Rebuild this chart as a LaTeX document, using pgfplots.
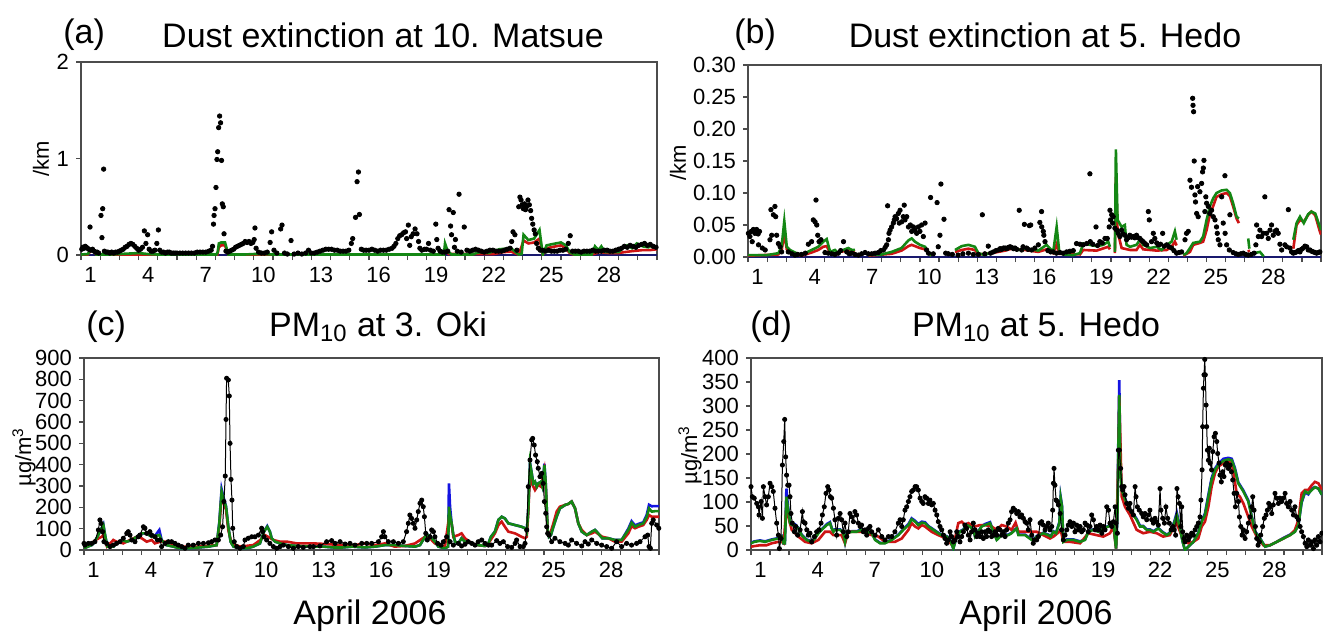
\documentclass[border=0pt]{standalone}
\usepackage{fontspec}
\setmainfont{Liberation Sans}
\usepackage{pgfplots}
\pgfplotsset{compat=1.18}
\definecolor{mred}{RGB}{205,20,20}
\definecolor{mgreen}{RGB}{20,135,20}
\definecolor{mblue}{RGB}{20,20,225}
\definecolor{mnavy}{RGB}{25,25,110}
\pgfplotsset{panel/.style={
 scale only axis, anchor=south west, xmin=0, xmax=30,
 axis line style={draw=black!70, line width=0.7pt},
 tick align=outside, tick pos=left,
 xtick={0,1,...,30},
 x tick label as interval,
 xticklabels={1,,,4,,,7,,,10,,,13,,,16,,,19,,,22,,,25,,,28,,},
 major tick length=2.5pt,
 every tick/.style={black!70, line width=0.6pt},
 tick label style={font=\fontsize{11}{11}\selectfont},
 /pgf/number format/assume math mode=true,
 unbounded coords=jump,
 clip mode=individual},
 modl/.style={line width=1.3pt, no marks},
 dots/.style={only marks, mark=*, mark size=1.1pt, black},
 obs/.style={black, line width=0.5pt, mark=*, mark size=1.0pt}}
\begin{document}
\begin{tikzpicture}
\path[use as bounding box] (0,0) rectangle (661.5pt,-317pt);
% ---------- (a)
\begin{axis}[panel, at={(40.5pt,-127.5pt)}, width=288pt, height=96.5pt,
 ymin=0, ymax=2, ytick={0,1,2}]
\addplot[mnavy, line width=1pt] coordinates {(0,0) (30,0)};
\addplot[modl, mred] coordinates {(0,0.003)(0.35,0.005)(0.5,0.04)(0.65,0.04)(0.8,0.003)(7.1,0.003)(7.18,0.08)(7.3,0.1)(7.5,0.1)(7.6,0.04)(7.68,0.003)(18.9,0.003)(18.96,0.07)(19.15,0.01)(21.5,0.01)(22.0,0.03)(22.4,0.035)(22.8,0.003)(23.05,0.15)(23.3,0.12)(23.6,0.13)(23.88,0.17)(24.05,0.003)(24.25,0.07)(24.6,0.085)(25.0,0.1)(25.25,0.07)(25.45,0.02)(25.7,0.003)(26.7,0.01)(27.0,0.03)(27.5,0.02)(28.0,0.02)(28.3,0.03)(28.7,0.04)(29.2,0.05)(29.6,0.05)(30,0.06)};
\addplot[modl, mgreen] coordinates {(0,0.005)(0.35,0.01)(0.5,0.05)(0.65,0.05)(0.8,0.005)(1.5,0.005)(2.0,0.01)(2.5,0.015)(3.0,0.02)(3.5,0.01)(4.0,0.005)(7.05,0.005)(7.12,0.03)(7.18,0.12)(7.3,0.13)(7.5,0.13)(7.6,0.06)(7.68,0.005)(8.5,0.005)(9.0,0.01)(9.5,0.01)(10,0.005)(18.9,0.005)(18.96,0.12)(19.1,0.04)(19.3,0.005)(20.4,0.005)(20.6,0.02)(20.8,0.03)(21.2,0.02)(21.8,0.06)(22.4,0.07)(22.7,0.02)(22.8,0.005)(22.95,0.01)(23.05,0.21)(23.3,0.155)(23.6,0.17)(23.88,0.26)(24.05,0.005)(24.25,0.10)(24.6,0.115)(25.0,0.13)(25.25,0.1)(25.45,0.03)(25.7,0.005)(26.6,0.005)(26.77,0.09)(26.95,0.05)(27.1,0.09)(27.3,0.03)(27.6,0.03)(28.0,0.03)(28.2,0.07)(28.45,0.1)(28.7,0.07)(28.95,0.12)(29.25,0.09)(29.55,0.08)(29.75,0.1)(29.9,0.09)(30,0.08)};
\addplot[dots] coordinates {(0.04,0.06)(0.1,0.08)(0.16,0.07)(0.22,0.09)(0.28,0.08)(0.34,0.07)(0.4,0.06)(0.47,0.29)(0.52,0.05)(0.6,0.06)(0.68,0.04)(0.76,0.03)(0.84,0.03)(0.92,0.02)(1.04,0.41)(1.09,0.18)(1.13,0.48)(1.18,0.89)(1.22,0.04)(1.3,0.03)(1.4,0.03)(1.5,0.02)(1.6,0.03)(1.7,0.02)(1.8,0.03)(1.9,0.03)(2.0,0.04)(2.1,0.05)(2.2,0.06)(2.3,0.08)(2.4,0.09)(2.5,0.11)(2.6,0.12)(2.7,0.11)(2.8,0.09)(2.9,0.07)(3.0,0.05)(3.1,0.06)(3.2,0.08)(3.3,0.25)(3.38,0.12)(3.47,0.21)(3.55,0.06)(3.65,0.04)(3.75,0.04)(3.85,0.05)(3.95,0.12)(4.03,0.26)(4.1,0.05)(4.2,0.03)(4.3,0.03)(4.4,0.02)(4.5,0.03)(4.6,0.03)(4.7,0.02)(4.8,0.02)(4.9,0.02)(5.0,0.02)(5.15,0.02)(5.3,0.02)(5.45,0.02)(5.6,0.02)(5.75,0.02)(5.9,0.02)(6.05,0.03)(6.2,0.03)(6.35,0.03)(6.5,0.03)(6.65,0.04)(6.78,0.05)(6.85,0.09)(6.9,0.32)(6.93,0.41)(6.98,0.48)(7.03,0.70)(7.08,0.99)(7.12,1.07)(7.17,1.32)(7.22,1.44)(7.27,1.37)(7.32,0.98)(7.36,0.53)(7.41,0.50)(7.45,0.22)(7.55,0.04)(7.65,0.03)(7.75,0.04)(7.85,0.05)(7.95,0.06)(8.05,0.08)(8.15,0.09)(8.25,0.1)(8.35,0.11)(8.45,0.12)(8.55,0.14)(8.65,0.13)(8.75,0.14)(8.85,0.12)(8.95,0.13)(9.02,0.16)(9.06,0.28)(9.12,0.07)(9.25,0.03)(9.4,0.02)(9.55,0.02)(9.7,0.03)(9.85,0.13)(9.93,0.24)(10.05,0.05)(10.2,0.02)(10.4,0.27)(10.47,0.31)(10.6,0.02)(10.75,0.01)(10.94,0.15)(11.1,0.01)(11.3,0.02)(11.5,0.01)(11.7,0.02)(11.85,0.05)(12.0,0.02)(12.15,0.02)(12.3,0.03)(12.45,0.04)(12.6,0.05)(12.75,0.06)(12.9,0.06)(13.05,0.06)(13.2,0.05)(13.35,0.05)(13.5,0.04)(13.65,0.04)(13.8,0.04)(13.95,0.05)(14.08,0.12)(14.15,0.17)(14.3,0.39)(14.38,0.76)(14.45,0.86)(14.5,0.42)(14.6,0.06)(14.72,0.05)(14.85,0.05)(15.0,0.05)(15.15,0.06)(15.3,0.05)(15.45,0.04)(15.6,0.05)(15.75,0.05)(15.9,0.05)(16.05,0.06)(16.2,0.07)(16.3,0.09)(16.4,0.12)(16.5,0.17)(16.6,0.2)(16.7,0.21)(16.8,0.23)(16.9,0.24)(16.96,0.17)(17.05,0.31)(17.12,0.10)(17.2,0.19)(17.3,0.22)(17.4,0.27)(17.5,0.22)(17.58,0.14)(17.65,0.07)(17.75,0.05)(17.9,0.06)(18.0,0.06)(18.1,0.12)(18.2,0.05)(18.35,0.04)(18.48,0.32)(18.53,0.16)(18.6,0.07)(18.7,0.04)(18.82,0.03)(18.95,0.03)(19.1,0.04)(19.17,0.47)(19.25,0.30)(19.3,0.21)(19.39,0.44)(19.45,0.08)(19.5,0.16)(19.6,0.04)(19.69,0.63)(19.8,0.03)(19.96,0.29)(20.1,0.05)(20.25,0.04)(20.4,0.05)(20.55,0.06)(20.7,0.05)(20.85,0.04)(21.0,0.03)(21.15,0.04)(21.3,0.05)(21.45,0.05)(21.6,0.04)(21.75,0.04)(21.9,0.04)(22.05,0.05)(22.2,0.06)(22.35,0.07)(22.43,0.14)(22.5,0.24)(22.6,0.21)(22.7,0.05)(22.8,0.50)(22.86,0.60)(22.92,0.57)(22.98,0.52)(23.04,0.48)(23.1,0.53)(23.15,0.47)(23.2,0.50)(23.28,0.57)(23.35,0.52)(23.42,0.46)(23.47,0.38)(23.53,0.32)(23.6,0.26)(23.66,0.22)(23.73,0.12)(23.82,0.07)(23.92,0.05)(24.05,0.05)(24.2,0.04)(24.35,0.05)(24.5,0.04)(24.65,0.04)(24.8,0.04)(24.95,0.05)(25.1,0.05)(25.25,0.06)(25.38,0.12)(25.48,0.20)(25.6,0.04)(25.75,0.04)(25.9,0.04)(26.05,0.03)(26.2,0.04)(26.35,0.04)(26.5,0.04)(26.65,0.05)(26.8,0.04)(26.95,0.04)(27.1,0.04)(27.25,0.05)(27.4,0.05)(27.55,0.04)(27.7,0.04)(27.85,0.05)(28.0,0.06)(28.15,0.07)(28.3,0.09)(28.45,0.08)(28.6,0.10)(28.75,0.09)(28.9,0.08)(29.05,0.10)(29.2,0.11)(29.35,0.12)(29.5,0.10)(29.65,0.11)(29.8,0.09)(29.95,0.08)};
\end{axis}
% ---------- (b)
\begin{axis}[panel, at={(374pt,-128.5pt)}, width=286.5pt, height=96pt,
 ymin=0, ymax=0.3, ytick={0,0.05,0.1,0.15,0.2,0.25,0.3},
 yticklabel style={/pgf/number format/.cd, fixed, fixed zerofill, precision=2}]
\addplot[mnavy, line width=1pt] coordinates {(0,0) (30,0)};
\addplot[modl, mred] coordinates {(0,0.002)(1.59,0.004)(1.76,0.01)(1.9,0.037)(2.03,0.012)(2.46,0.005)(2.8,0.002)(3.33,0.007)(3.68,0.011)(3.94,0.016)(4.12,0.017)(4.3,0.006)(4.73,0.004)};
\addplot[modl, mred] coordinates {(4.9,0.008)(5.25,0.012)(5.6,0.009)};
\addplot[modl, mred] coordinates {(6.3,0.002)(7.52,0.005)(8.04,0.01)(8.4,0.017)(8.57,0.019)(9.0,0.014)(9.27,0.012)(9.6,0.002)};
\addplot[modl, mred] coordinates {(10.84,0.008)(11.19,0.011)(11.54,0.013)(11.88,0.011)(12.06,0.004)(12.75,0.006)(13.46,0.01)(13.8,0.013)(14.5,0.011)(15.2,0.008)(15.63,0.012)(15.98,0.006)(16.16,0.02)(16.3,0.005)(17.38,0.004)(17.55,0.011)(18.25,0.01)(18.86,0.016)(18.95,0.012)};
\addplot[modl, mred] coordinates {(19.21,0.006)(19.26,0.125)(19.35,0.04)(19.56,0.014)(20.0,0.011)(20.34,0.011)(20.52,0.019)(20.69,0.012)(21.4,0.01)(21.92,0.011)(22.18,0.016)(22.35,0.024)(22.44,0.018)};
\addplot[modl, mred] coordinates {(22.79,0.002)(23.14,0.008)(23.31,0.019)(23.66,0.022)(23.83,0.024)(24.01,0.042)(24.18,0.066)(24.36,0.08)(24.53,0.094)(24.8,0.098)(25.06,0.1)(25.23,0.095)(25.4,0.079)(25.58,0.06)(25.7,0.053)};
\addplot[modl, mred] coordinates {(26.19,0.011)(26.25,0.008)};
\addplot[modl, mred] coordinates {(28.55,0.013)(28.72,0.05)(28.9,0.058)(29.1,0.055)(29.33,0.066)(29.5,0.071)(29.7,0.065)(29.94,0.04)(30,0.035)};
\addplot[modl, mgreen] coordinates {(0,0.003)(1.0,0.003)(1.59,0.006)(1.76,0.016)(1.9,0.056)(2.03,0.016)(2.2,0.011)(2.46,0.007)(2.8,0.003)(3.33,0.011)(3.68,0.016)(3.94,0.024)(4.12,0.028)(4.3,0.008)(4.55,0.011)(4.73,0.006)};
\addplot[modl, mgreen] coordinates {(4.9,0.01)(5.25,0.014)(5.43,0.011)(5.6,0.011)};
\addplot[modl, mgreen] coordinates {(6.3,0.003)(7.0,0.004)(7.52,0.008)(8.04,0.014)(8.4,0.026)(8.57,0.029)(8.74,0.024)(9.0,0.019)(9.27,0.016)(9.44,0.006)(9.6,0.002)};
\addplot[modl, mgreen] coordinates {(10.84,0.011)(11.19,0.017)(11.54,0.019)(11.88,0.016)(12.06,0.006)(12.4,0.003)(12.75,0.008)(13.11,0.011)(13.46,0.012)(13.8,0.016)(14.15,0.011)(14.5,0.013)(14.85,0.012)(15.2,0.01)(15.63,0.019)(15.98,0.008)(16.16,0.047)(16.3,0.007)(16.5,0.004)(17.03,0.003)(17.38,0.006)(17.55,0.021)(17.9,0.019)(18.25,0.017)(18.6,0.019)(18.86,0.024)(18.95,0.016)};
\addplot[modl, mgreen] coordinates {(19.21,0.008)(19.26,0.168)(19.35,0.058)(19.56,0.047)(19.73,0.05)(19.82,0.019)(20.0,0.016)(20.34,0.019)(20.52,0.027)(20.69,0.019)(21.05,0.014)(21.4,0.016)(21.65,0.011)(21.92,0.019)(22.18,0.024)(22.35,0.04)(22.44,0.027)};
\addplot[modl, mgreen] coordinates {(22.79,0.003)(22.96,0.006)(23.14,0.014)(23.31,0.022)(23.66,0.024)(23.83,0.032)(24.01,0.058)(24.18,0.079)(24.36,0.092)(24.53,0.1)(24.8,0.104)(25.06,0.105)(25.23,0.1)(25.4,0.084)(25.58,0.063)(25.7,0.06)};
\addplot[modl, mgreen] coordinates {(26.19,0.029)(26.25,0.013)};
\addplot[modl, mgreen] coordinates {(26.5,0.006)(26.8,0.008)(27.0,0.001)};
\addplot[modl, mgreen] coordinates {(28.55,0.027)(28.72,0.053)(28.9,0.063)(29.1,0.053)(29.33,0.067)(29.5,0.071)(29.7,0.068)(29.94,0.047)(30,0.042)};
\addplot[dots] coordinates {(0.02,0.037)(0.1,0.032)(0.17,0.040)(0.22,0.024)(0.28,0.043)(0.36,0.037)(0.45,0.043)(0.53,0.036)(0.6,0.040)(0.55,0.019)(0.75,0.014)(0.9,0.011)(1.15,0.027)(1.2,0.074)(1.24,0.034)(1.33,0.066)(1.41,0.079)(1.45,0.063)(1.5,0.034)(1.59,0.021)(1.68,0.016)(1.76,0.008)(2.11,0.008)(2.3,0.005)(2.46,0.003)(2.6,0.004)(2.8,0.004)(3.0,0.006)(3.16,0.02)(3.33,0.024)(3.42,0.058)(3.51,0.055)(3.56,0.089)(3.6,0.05)(3.65,0.034)(3.72,0.024)(3.82,0.027)(4.03,0.007)(4.2,0.006)(4.38,0.005)(4.55,0.004)(4.73,0.006)(4.85,0.01)(5.0,0.024)(5.17,0.008)(5.3,0.005)(5.43,0.006)(5.6,0.004)(5.78,0.003)(5.95,0.005)(6.13,0.007)(6.3,0.005)(6.48,0.005)(6.65,0.006)(6.82,0.007)(6.95,0.01)(7.09,0.011)(7.18,0.015)(7.26,0.019)(7.31,0.08)(7.35,0.027)(7.38,0.037)(7.44,0.042)(7.52,0.047)(7.61,0.053)(7.66,0.058)(7.7,0.063)(7.78,0.06)(7.87,0.068)(7.92,0.053)(7.96,0.073)(8.05,0.055)(8.13,0.063)(8.18,0.081)(8.22,0.058)(8.31,0.063)(8.4,0.047)(8.5,0.05)(8.57,0.04)(8.66,0.047)(8.74,0.042)(8.83,0.037)(8.92,0.047)(9.0,0.04)(9.09,0.05)(9.18,0.032)(9.27,0.053)(9.35,0.011)(9.45,0.006)(9.56,0.093)(9.7,0.005)(9.9,0.085)(9.96,0.016)(10.05,0.034)(10.1,0.114)(10.26,0.059)(10.35,0.006)(10.49,0.005)(10.7,0.004)(11.0,0.003)(11.25,0.005)(11.54,0.006)(11.8,0.004)(12.06,0.004)(12.27,0.066)(12.4,0.005)(12.58,0.017)(12.7,0.006)(12.85,0.008)(12.98,0.01)(13.11,0.011)(13.2,0.013)(13.28,0.012)(13.37,0.014)(13.46,0.014)(13.55,0.013)(13.63,0.015)(13.72,0.016)(13.8,0.015)(13.9,0.013)(13.98,0.014)(14.07,0.012)(14.2,0.073)(14.33,0.011)(14.4,0.016)(14.47,0.051)(14.59,0.014)(14.66,0.012)(14.73,0.049)(14.8,0.05)(14.85,0.011)(15.02,0.014)(15.2,0.019)(15.28,0.054)(15.37,0.071)(15.38,0.047)(15.46,0.04)(15.49,0.034)(15.55,0.024)(15.7,0.01)(15.85,0.008)(15.98,0.008)(16.15,0.006)(16.33,0.007)(16.5,0.006)(16.68,0.008)(16.85,0.009)(17.03,0.01)(17.2,0.021)(17.38,0.02)(17.55,0.019)(17.73,0.021)(17.9,0.13)(17.92,0.024)(18.05,0.02)(18.22,0.047)(18.3,0.018)(18.42,0.024)(18.55,0.022)(18.69,0.029)(18.81,0.029)(18.91,0.047)(18.95,0.073)(18.98,0.058)(19.04,0.066)(19.09,0.053)(19.12,0.063)(19.21,0.045)(19.3,0.042)(19.38,0.037)(19.47,0.032)(19.56,0.042)(19.64,0.036)(19.73,0.034)(19.82,0.027)(19.9,0.03)(19.99,0.034)(20.08,0.031)(20.17,0.032)(20.25,0.03)(20.34,0.034)(20.43,0.03)(20.52,0.029)(20.6,0.026)(20.69,0.024)(20.78,0.021)(20.87,0.019)(20.96,0.071)(21.01,0.058)(21.13,0.024)(21.22,0.037)(21.3,0.029)(21.4,0.022)(21.48,0.019)(21.6,0.02)(21.71,0.037)(21.8,0.017)(21.92,0.019)(22.05,0.016)(22.18,0.014)(22.3,0.01)(22.44,0.006)(22.57,0.007)(22.7,0.008)(22.88,0.027)(22.96,0.037)(23.05,0.04)(23.14,0.12)(23.22,0.109)(23.28,0.248)(23.3,0.237)(23.33,0.227)(23.36,0.15)(23.4,0.097)(23.43,0.086)(23.49,0.068)(23.54,0.11)(23.57,0.063)(23.66,0.102)(23.75,0.115)(23.8,0.133)(23.84,0.139)(23.87,0.151)(23.92,0.071)(23.97,0.094)(24.01,0.084)(24.1,0.079)(24.18,0.068)(24.27,0.073)(24.36,0.063)(24.45,0.058)(24.53,0.047)(24.57,0.037)(24.62,0.027)(24.71,0.019)(24.8,0.094)(24.88,0.053)(24.97,0.127)(24.98,0.037)(25.06,0.019)(25.2,0.011)(25.23,0.066)(25.4,0.007)(25.55,0.005)(25.67,0.004)(25.8,0.005)(25.93,0.006)(26.06,0.004)(26.19,0.003)(26.35,0.004)(26.5,0.006)(26.59,0.019)(26.63,0.05)(26.72,0.032)(26.8,0.042)(26.89,0.032)(26.98,0.037)(27.06,0.094)(27.15,0.037)(27.24,0.029)(27.33,0.042)(27.41,0.05)(27.5,0.034)(27.59,0.04)(27.67,0.042)(27.76,0.037)(27.85,0.02)(27.94,0.011)(28.11,0.019)(28.2,0.016)(28.29,0.074)(28.37,0.014)(28.46,0.008)(28.55,0.006)(28.64,0.007)(28.72,0.008)(28.81,0.01)(28.9,0.008)(28.98,0.012)(29.07,0.014)(29.16,0.017)(29.25,0.016)(29.33,0.011)(29.42,0.011)(29.51,0.009)(29.6,0.008)(29.69,0.007)(29.77,0.006)(29.86,0.007)(29.94,0.008)};
\end{axis}
% ---------- (c)
\begin{axis}[panel, at={(42pt,-275pt)}, width=287.5pt, height=96pt,
 ymin=0, ymax=900, ytick={0,100,...,900}]
\addplot[modl, mblue] coordinates {(0,8)(0.2,16)(0.4,23)(0.5,31)(0.7,62)(0.87,94)(1.01,120)(1.1,70)(1.22,16)(1.53,16)(1.7,31)(1.97,47)(2.23,39)(2.49,47)(2.75,62)(3.01,78)(3.27,78)(3.53,62)(3.7,66)(3.93,94)(4.05,47)(4.3,23)(4.66,16)(5.0,8)(5.5,8)(6.0,12)(6.5,16)(6.92,23)(7.06,130)(7.18,285)(7.27,250)(7.41,205)(7.53,109)(7.65,39)(7.8,16)(8.14,8)(8.5,8)(8.83,16)(9.18,31)(9.39,86)(9.56,112)(9.7,86)(9.79,55)(9.97,39)(10.23,31)(10.6,23)(11.1,19)(11.97,16)(12.5,16)(13,12)(13.5,12)(14,16)(14.66,12)(15.2,16)(15.7,23)(16.2,23)(16.75,19)(17.27,16)(17.53,23)(17.79,62)(17.97,70)(18.14,55)(18.31,39)(18.49,16)(18.83,8)(19.0,16)(19.04,312)(19.1,200)(19.18,125)(19.27,70)(19.36,39)(19.53,31)(19.7,55)(19.88,39)(20.23,31)(20.57,23)(20.92,19)(21.1,31)(21.23,62)(21.44,86)(21.62,141)(21.79,156)(21.96,148)(22.14,125)(22.49,117)(22.83,109)(23.01,102)(23.1,86)(23.18,188)(23.27,410)(23.36,359)(23.44,312)(23.53,320)(23.62,297)(23.7,312)(23.84,320)(23.92,297)(24.02,405)(24.09,312)(24.14,203)(24.19,94)(24.26,62)(24.36,70)(24.49,109)(24.66,156)(24.83,195)(25.1,211)(25.27,216)(25.44,227)(25.62,195)(25.79,125)(25.97,86)(26.23,70)(26.49,86)(26.66,94)(26.83,78)(27.04,55)(27.36,55)(27.7,47)(28.05,47)(28.4,100)(28.57,135)(28.75,115)(28.92,122)(29.18,130)(29.36,165)(29.48,212)(29.62,205)(29.79,206)(30,206)};
\addplot[modl, mred] coordinates {(0,8)(0.3,23)(0.6,47)(0.92,62)(1.0,70)(1.2,16)(1.53,47)(1.7,39)(2.05,31)(2.4,47)(2.75,62)(3.01,55)(3.27,39)(3.53,47)(3.7,31)(3.97,39)(4.3,39)(4.75,23)(5.2,16)(6.0,16)(6.92,23)(7.06,109)(7.18,250)(7.27,227)(7.41,188)(7.53,94)(7.7,31)(8.14,16)(8.83,23)(9.2,47)(9.44,70)(9.6,62)(9.88,47)(10.23,39)(10.6,39)(11.1,31)(11.97,31)(12.66,28)(13.36,23)(14.14,23)(14.66,31)(15.2,23)(15.7,31)(16.2,16)(16.75,19)(17.27,31)(17.79,62)(17.97,62)(18.31,31)(18.83,16)(19.04,150)(19.18,125)(19.27,62)(19.53,70)(19.7,78)(19.88,55)(20.23,31)(20.57,23)(20.92,19)(21.1,31)(21.27,55)(21.44,78)(21.62,117)(21.79,133)(21.96,109)(22.14,86)(22.49,78)(22.83,62)(23.01,55)(23.1,62)(23.18,172)(23.27,375)(23.36,312)(23.53,281)(23.7,305)(23.84,297)(24.02,375)(24.09,297)(24.14,188)(24.19,86)(24.3,70)(24.49,125)(24.66,180)(24.83,203)(25.1,211)(25.27,216)(25.44,227)(25.62,195)(25.79,125)(25.97,94)(26.23,70)(26.49,78)(26.66,86)(26.83,75)(27.04,62)(27.36,55)(27.7,39)(28.05,39)(28.4,78)(28.57,112)(28.75,102)(28.92,109)(29.18,117)(29.36,141)(29.48,164)(29.62,156)(29.79,156)(30,156)};
\addplot[modl, mgreen] coordinates {(0,8)(0.2,16)(0.4,23)(0.5,31)(0.7,62)(0.87,94)(1.01,117)(1.1,70)(1.22,16)(1.53,16)(1.7,31)(1.97,47)(2.23,39)(2.49,47)(2.75,62)(3.01,78)(3.27,78)(3.53,62)(3.7,66)(3.93,70)(4.05,47)(4.3,23)(4.66,16)(5.0,8)(5.5,8)(6.0,12)(6.5,16)(6.92,23)(7.06,125)(7.18,273)(7.27,242)(7.41,203)(7.53,109)(7.65,39)(7.8,16)(8.14,8)(8.5,8)(8.83,16)(9.18,31)(9.39,86)(9.56,109)(9.7,86)(9.79,55)(9.97,39)(10.23,31)(10.6,23)(11.1,19)(11.97,16)(12.5,16)(13,12)(13.5,12)(14,16)(14.66,12)(15.2,16)(15.7,23)(16.2,23)(16.75,19)(17.27,16)(17.53,23)(17.79,62)(17.97,70)(18.14,55)(18.31,39)(18.49,16)(18.83,8)(19.0,16)(19.04,203)(19.1,164)(19.18,125)(19.27,70)(19.36,39)(19.53,31)(19.7,55)(19.88,39)(20.23,31)(20.57,23)(20.92,19)(21.1,31)(21.23,62)(21.44,86)(21.62,141)(21.79,156)(21.96,148)(22.14,125)(22.49,117)(22.83,109)(23.01,102)(23.1,86)(23.18,188)(23.27,406)(23.36,359)(23.44,312)(23.53,320)(23.62,297)(23.7,312)(23.84,320)(23.92,297)(24.02,398)(24.09,312)(24.14,203)(24.19,94)(24.26,62)(24.36,70)(24.49,109)(24.66,156)(24.83,195)(25.1,211)(25.27,216)(25.44,227)(25.62,195)(25.79,125)(25.97,86)(26.23,70)(26.49,86)(26.66,94)(26.83,78)(27.04,55)(27.36,55)(27.7,47)(28.05,47)(28.4,94)(28.57,128)(28.75,109)(28.92,117)(29.18,125)(29.36,156)(29.48,195)(29.62,180)(29.79,182)(30,182)};
\addplot[obs] coordinates {(0.0,31)(0.05,23)(0.23,31)(0.4,31)(0.57,39)(0.75,94)(0.83,141)(0.89,125)(0.97,86)(1.04,39)(1.18,31)(1.36,16)(1.53,23)(1.7,31)(1.88,39)(2.05,55)(2.23,78)(2.31,86)(2.4,70)(2.49,47)(2.66,39)(2.83,62)(2.92,70)(3.1,109)(3.18,102)(3.27,78)(3.44,86)(3.53,70)(3.7,62)(3.83,47)(3.97,47)(4.05,16)(4.23,31)(4.4,39)(4.57,39)(4.75,31)(4.92,23)(5.1,16)(5.27,8)(5.44,23)(5.7,23)(5.97,31)(6.23,31)(6.49,34)(6.66,39)(6.83,47)(7.01,47)(7.13,70)(7.23,109)(7.3,227)(7.37,347)(7.41,612)(7.44,805)(7.53,797)(7.58,722)(7.62,500)(7.67,331)(7.72,234)(7.76,102)(7.84,39)(7.97,16)(8.14,8)(8.31,16)(8.4,47)(8.57,55)(8.75,62)(8.92,62)(9.1,70)(9.27,102)(9.32,86)(9.39,62)(9.53,47)(9.7,31)(9.88,16)(10.05,8)(10.23,16)(10.4,23)(10.66,16)(10.92,8)(11.18,16)(11.44,12)(11.79,16)(11.97,16)(12.31,19)(12.66,39)(12.92,44)(13.1,31)(13.36,39)(13.62,28)(13.88,31)(14.14,23)(14.49,31)(14.75,31)(15.01,31)(15.36,39)(15.53,62)(15.62,86)(15.7,62)(15.88,39)(16.14,39)(16.4,31)(16.66,39)(16.83,86)(16.92,125)(17.0,164)(17.09,148)(17.18,125)(17.27,102)(17.36,141)(17.44,180)(17.53,219)(17.62,234)(17.7,203)(17.76,156)(17.83,78)(17.91,47)(18.05,62)(18.14,94)(18.23,86)(18.31,62)(18.45,31)(18.63,23)(18.75,39)(18.92,62)(19.1,39)(19.27,23)(19.53,31)(19.7,19)(19.88,27)(20.05,39)(20.23,31)(20.4,23)(20.57,39)(20.75,47)(20.92,31)(21.1,23)(21.27,23)(21.53,44)(21.7,31)(21.88,39)(22.1,16)(22.31,12)(22.49,31)(22.57,47)(22.75,16)(22.92,16)(23.01,31)(23.1,94)(23.18,297)(23.27,422)(23.36,516)(23.41,523)(23.49,492)(23.56,445)(23.65,414)(23.7,383)(23.79,344)(23.88,359)(23.96,312)(24.02,227)(24.09,172)(24.14,109)(24.19,78)(24.26,70)(24.4,39)(24.57,55)(24.83,39)(25.1,31)(25.27,23)(25.44,47)(25.7,31)(25.97,19)(26.14,39)(26.31,28)(26.49,47)(26.75,31)(27.01,23)(27.27,16)(27.53,8)(27.79,39)(28.05,16)(28.31,31)(28.57,23)(28.83,31)(29.01,39)(29.27,62)(29.41,70)(29.48,16)(29.55,8)(29.62,125)(29.7,141)(29.88,117)(29.99,102)};
\end{axis}
% ---------- (d)
\begin{axis}[panel, at={(375.5pt,-275pt)}, width=285.5pt, height=96pt,
 ymin=0, ymax=400, ytick={0,50,...,400}]
\addplot[modl, mblue] coordinates {(0,15)(0.17,18)(0.47,20)(0.74,18)(1.09,22)(1.44,25)(1.61,29)(1.7,14)(1.78,14)(1.86,128)(1.93,95)(1.99,78)(2.05,58)(2.14,54)(2.31,54)(2.49,46)(2.66,32)(2.92,22)(3.19,18)(3.36,25)(3.54,36)(3.71,43)(3.98,54)(4.15,58)(4.24,46)(4.33,39)(4.41,43)(4.68,43)(4.85,36)(4.94,17)(5.03,36)(5.29,39)(5.55,39)(5.81,43)(6.08,39)(6.34,36)(6.52,22)(6.78,15)(7.04,15)(7.39,22)(7.74,32)(8.0,43)(8.27,54)(8.44,66)(8.62,61)(8.79,54)(8.97,59)(9.14,58)(9.32,50)(9.58,43)(9.84,36)(10.02,32)(10.28,29)(10.46,22)(10.63,3)(10.81,29)(10.98,39)(11.16,43)(11.33,54)(11.5,50)(11.68,43)(11.77,29)(11.94,39)(12.12,50)(12.29,54)(12.56,58)(12.73,39)(12.91,22)(13.17,32)(13.52,32)(13.69,36)(13.96,46)(14.05,32)(14.4,32)(14.75,22)(14.92,25)(15.01,29)(15.36,36)(15.62,32)(15.75,29)(15.89,39)(16.03,36)(16.2,58)(16.27,110)(16.34,92)(16.41,18)(16.6,22)(16.94,22)(17.29,18)(17.55,22)(17.72,39)(17.99,43)(18.25,39)(18.51,46)(18.78,50)(19.04,58)(19.18,3)(19.25,70)(19.3,230)(19.35,354)(19.4,180)(19.48,128)(19.6,113)(19.74,99)(19.91,85)(20.09,75)(20.26,65)(20.44,50)(20.61,50)(20.79,43)(20.96,43)(21.14,39)(21.4,46)(21.58,39)(21.84,32)(22.0,36)(22.23,58)(22.37,78)(22.54,46)(22.68,17)(22.8,0)(22.98,7)(23.24,17)(23.5,36)(23.68,61)(23.85,76)(24.03,115)(24.2,150)(24.38,170)(24.55,180)(24.82,190)(25.08,192)(25.26,190)(25.43,170)(25.6,141)(25.87,124)(26.13,103)(26.31,70)(26.48,39)(26.74,25)(27.01,7)(27.27,10)(27.62,17)(27.97,25)(28.32,32)(28.58,39)(28.76,52)(28.93,99)(29.11,120)(29.28,116)(29.46,128)(29.63,131)(29.81,128)(30,115)};
\addplot[modl, mred] coordinates {(0,7)(0.47,10)(0.82,10)(1.09,14)(1.44,17)(1.61,17)(1.72,14)(1.87,97)(1.96,69)(2.14,42)(2.49,28)(2.84,17)(3.19,14)(3.54,21)(3.89,38)(4.15,38)(4.33,31)(4.59,31)(4.76,31)(4.94,14)(5.11,38)(5.46,38)(5.81,38)(6.08,35)(6.34,31)(6.69,28)(7.04,17)(7.56,17)(7.92,24)(8.27,42)(8.44,56)(8.62,49)(8.79,45)(8.97,52)(9.14,49)(9.49,38)(9.84,31)(10.28,24)(10.63,7)(10.89,56)(11.07,59)(11.24,52)(11.42,56)(11.59,52)(11.77,49)(12.03,52)(12.29,52)(12.64,49)(12.91,42)(13.17,52)(13.43,49)(13.69,42)(13.9,57)(14.05,38)(14.4,38)(14.75,38)(14.92,38)(15.01,38)(15.36,31)(15.71,24)(15.89,28)(16.2,38)(16.27,42)(16.41,17)(16.76,17)(17.29,14)(17.72,35)(18.16,31)(18.51,28)(18.86,35)(19.04,49)(19.18,3)(19.3,194)(19.35,319)(19.48,111)(19.65,90)(19.91,73)(20.26,42)(20.61,35)(20.96,38)(21.31,35)(21.66,28)(22.0,31)(22.23,49)(22.37,56)(22.54,38)(22.71,21)(22.98,14)(23.24,17)(23.5,24)(23.68,49)(23.85,59)(24.03,90)(24.2,132)(24.38,160)(24.55,174)(24.82,181)(25.08,184)(25.26,181)(25.38,153)(25.52,118)(25.69,111)(25.87,97)(26.13,69)(26.31,49)(26.57,28)(26.92,10)(27.27,10)(27.62,17)(27.97,24)(28.32,31)(28.58,42)(28.76,63)(28.93,118)(29.11,125)(29.28,125)(29.46,135)(29.63,142)(29.81,139)(30,125)};
\addplot[modl, mgreen] coordinates {(0,14)(0.17,17)(0.47,19)(0.74,17)(1.09,21)(1.44,24)(1.61,28)(1.7,14)(1.78,14)(1.86,111)(1.93,90)(1.99,76)(2.05,56)(2.14,52)(2.31,52)(2.49,45)(2.66,31)(2.92,21)(3.19,17)(3.36,24)(3.54,35)(3.71,42)(3.98,52)(4.15,56)(4.24,45)(4.33,38)(4.41,42)(4.68,42)(4.85,35)(4.94,17)(5.03,35)(5.29,38)(5.55,38)(5.81,42)(6.08,38)(6.34,35)(6.52,21)(6.78,14)(7.04,14)(7.39,21)(7.74,31)(8.0,42)(8.27,52)(8.44,64)(8.62,59)(8.79,52)(8.97,57)(9.14,56)(9.32,49)(9.58,42)(9.84,35)(10.02,31)(10.28,28)(10.46,21)(10.63,3)(10.81,28)(10.98,38)(11.16,42)(11.33,52)(11.5,49)(11.68,42)(11.77,28)(11.94,38)(12.12,49)(12.29,52)(12.56,56)(12.73,38)(12.91,21)(13.17,31)(13.52,31)(13.69,35)(13.96,45)(14.05,31)(14.4,31)(14.75,21)(14.92,24)(15.01,28)(15.36,35)(15.62,31)(15.75,28)(15.89,38)(16.03,35)(16.2,56)(16.27,108)(16.34,90)(16.41,17)(16.6,21)(16.94,21)(17.29,17)(17.55,21)(17.72,38)(17.99,42)(18.25,38)(18.51,45)(18.78,49)(19.04,56)(19.18,3)(19.25,69)(19.3,208)(19.35,323)(19.4,174)(19.48,125)(19.6,111)(19.74,97)(19.91,83)(20.09,73)(20.26,63)(20.44,49)(20.61,49)(20.79,42)(20.96,42)(21.14,38)(21.4,45)(21.58,38)(21.84,31)(22.0,35)(22.23,56)(22.37,73)(22.54,45)(22.68,17)(22.8,0)(22.98,7)(23.24,17)(23.5,35)(23.68,59)(23.85,73)(24.03,111)(24.2,146)(24.38,167)(24.55,177)(24.82,186)(25.08,189)(25.26,187)(25.43,167)(25.6,139)(25.87,122)(26.13,101)(26.31,69)(26.48,38)(26.74,24)(27.01,7)(27.27,10)(27.62,17)(27.97,24)(28.32,31)(28.58,38)(28.76,52)(28.93,101)(29.11,122)(29.28,118)(29.46,125)(29.63,131)(29.81,128)(30,115)};
\addplot[obs] coordinates {(0.0,132)(0.07,111)(0.17,108)(0.3,97)(0.39,90)(0.42,73)(0.53,101)(0.6,66)(0.65,132)(0.74,111)(0.82,94)(0.91,111)(1.0,139)(1.09,132)(1.17,122)(1.26,87)(1.35,56)(1.44,31)(1.49,3)(1.58,24)(1.65,177)(1.72,226)(1.77,272)(1.82,194)(1.87,156)(1.93,135)(2.0,135)(2.05,111)(2.1,76)(2.17,56)(2.28,38)(2.35,49)(2.45,31)(2.58,42)(2.7,80)(2.75,59)(2.84,56)(2.93,42)(3.01,31)(3.1,35)(3.19,17)(3.33,28)(3.45,38)(3.57,42)(3.68,56)(3.75,73)(3.85,90)(3.94,118)(4.03,132)(4.1,125)(4.17,111)(4.24,108)(4.33,87)(4.41,63)(4.5,31)(4.59,66)(4.68,76)(4.76,63)(4.85,38)(4.94,56)(5.03,28)(5.11,38)(5.2,76)(5.29,69)(5.38,59)(5.46,80)(5.55,73)(5.64,56)(5.73,49)(5.81,52)(5.9,38)(5.99,42)(6.08,31)(6.17,45)(6.25,49)(6.34,38)(6.52,31)(6.69,42)(6.87,28)(7.04,21)(7.22,28)(7.39,28)(7.56,38)(7.74,56)(7.83,63)(7.92,49)(8.0,63)(8.09,83)(8.18,90)(8.27,101)(8.35,111)(8.44,122)(8.53,125)(8.62,132)(8.7,132)(8.79,125)(8.88,108)(8.97,101)(9.05,97)(9.14,111)(9.23,108)(9.32,97)(9.4,104)(9.49,94)(9.58,97)(9.67,83)(9.76,73)(9.84,59)(9.93,49)(10.02,42)(10.11,31)(10.19,24)(10.28,14)(10.37,21)(10.46,38)(10.54,28)(10.63,17)(10.72,21)(10.81,38)(10.89,28)(10.98,17)(11.07,28)(11.16,38)(11.24,52)(11.33,45)(11.42,31)(11.51,21)(11.59,38)(11.68,56)(11.77,42)(11.86,28)(11.94,35)(12.03,28)(12.12,38)(12.21,24)(12.3,38)(12.38,28)(12.47,42)(12.56,38)(12.64,28)(12.73,31)(12.82,38)(12.91,31)(12.99,45)(13.08,42)(13.17,31)(13.26,38)(13.35,28)(13.43,42)(13.52,56)(13.61,63)(13.69,80)(13.78,87)(13.87,83)(13.96,76)(14.05,80)(14.13,69)(14.22,73)(14.31,66)(14.4,59)(14.48,56)(14.57,42)(14.66,63)(14.75,31)(14.83,14)(14.92,21)(15.01,21)(15.1,28)(15.19,56)(15.27,59)(15.36,52)(15.45,42)(15.54,49)(15.62,56)(15.71,42)(15.8,49)(15.85,83)(15.89,139)(15.92,170)(15.97,135)(16.03,104)(16.1,101)(16.15,94)(16.24,76)(16.32,42)(16.41,21)(16.5,31)(16.59,42)(16.67,52)(16.76,59)(16.85,49)(16.94,56)(17.02,38)(17.11,52)(17.2,42)(17.29,49)(17.37,38)(17.46,42)(17.55,56)(17.64,52)(17.72,38)(17.81,49)(17.9,73)(17.99,63)(18.08,42)(18.16,49)(18.25,42)(18.34,52)(18.43,35)(18.51,49)(18.6,42)(18.69,90)(18.78,83)(18.86,56)(18.95,49)(19.04,59)(19.13,90)(19.18,56)(19.25,35)(19.3,208)(19.35,208)(19.42,170)(19.48,132)(19.53,125)(19.6,132)(19.65,115)(19.74,97)(19.83,87)(19.91,97)(20.0,80)(20.09,73)(20.18,132)(20.23,111)(20.3,90)(20.4,83)(20.53,76)(20.61,69)(20.7,76)(20.79,63)(20.88,73)(20.96,83)(21.05,63)(21.14,56)(21.23,66)(21.31,59)(21.4,52)(21.49,128)(21.54,83)(21.63,66)(21.72,56)(21.8,90)(21.89,66)(21.98,56)(22.07,42)(22.16,49)(22.23,42)(22.31,31)(22.38,128)(22.44,111)(22.51,97)(22.58,49)(22.63,90)(22.68,38)(22.75,24)(22.8,17)(22.89,31)(22.98,21)(23.07,28)(23.15,35)(23.24,31)(23.33,42)(23.42,49)(23.5,56)(23.59,69)(23.64,104)(23.7,167)(23.73,257)(23.77,337)(23.8,365)(23.84,397)(23.87,365)(23.91,302)(23.94,257)(23.98,208)(24.03,187)(24.08,212)(24.12,181)(24.2,167)(24.26,205)(24.33,236)(24.4,243)(24.47,226)(24.52,201)(24.59,181)(24.64,156)(24.71,142)(24.78,163)(24.85,153)(24.92,177)(24.99,181)(25.08,170)(25.17,177)(25.24,163)(25.31,146)(25.38,118)(25.45,90)(25.52,118)(25.61,101)(25.66,69)(25.73,49)(25.8,31)(25.87,42)(25.96,24)(26.04,38)(26.13,56)(26.22,69)(26.31,90)(26.36,111)(26.43,83)(26.5,49)(26.57,24)(26.64,10)(26.71,17)(26.78,31)(26.88,49)(26.97,66)(27.06,73)(27.13,83)(27.2,97)(27.27,90)(27.36,76)(27.44,94)(27.53,118)(27.62,108)(27.71,97)(27.79,108)(27.88,101)(27.97,108)(28.06,118)(28.14,97)(28.23,90)(28.32,101)(28.41,83)(28.5,73)(28.58,90)(28.67,69)(28.76,63)(28.85,49)(28.93,38)(29.02,28)(29.11,14)(29.2,7)(29.28,21)(29.37,10)(29.46,17)(29.55,3)(29.63,21)(29.72,10)(29.81,28)(29.9,17)(29.99,35)};
\end{axis}
% ---------- texts
\begin{scope}[every node/.style={inner sep=0pt}]
\node[anchor=base west, font=\fontsize{17}{17}\selectfont] at (31.5pt,-21.5pt) {(a)};
\node[anchor=base, font=\fontsize{17}{17}\selectfont] at (191.5pt,-23.5pt) {Dust extinction at 10. Matsue};
\node[anchor=base west, font=\fontsize{17}{17}\selectfont] at (367pt,-21.5pt) {(b)};
\node[anchor=base, font=\fontsize{17}{17}\selectfont] at (522.5pt,-23.5pt) {Dust extinction at 5. Hedo};
\node[anchor=base west, font=\fontsize{17}{17}\selectfont] at (43pt,-167.5pt) {(c)};
\node[anchor=base, font=\fontsize{17}{17}\selectfont] at (189pt,-168pt) {PM\textsubscript{10} at 3. Oki};
\node[anchor=base west, font=\fontsize{17}{17}\selectfont] at (375pt,-167.5pt) {(d)};
\node[anchor=base, font=\fontsize{17}{17}\selectfont] at (518pt,-168pt) {PM\textsubscript{10} at 5. Hedo};
\node[anchor=base, font=\fontsize{17}{17}\selectfont] at (185pt,-312pt) {April 2006};
\node[anchor=base, font=\fontsize{17}{17}\selectfont] at (518pt,-312pt) {April 2006};
\node[rotate=90, font=\fontsize{11}{11}\selectfont] at (20.5pt,-79.5pt) {/km};
\node[rotate=90, font=\fontsize{11}{11}\selectfont] at (339pt,-81.5pt) {/km};
\node[rotate=90, font=\fontsize{11}{11}\selectfont] at (12pt,-228.5pt) {µg/m\textsuperscript{3}};
\node[rotate=90, font=\fontsize{11}{11}\selectfont] at (345pt,-227.5pt) {µg/m\textsuperscript{3}};
\end{scope}
\end{tikzpicture}
\end{document}
